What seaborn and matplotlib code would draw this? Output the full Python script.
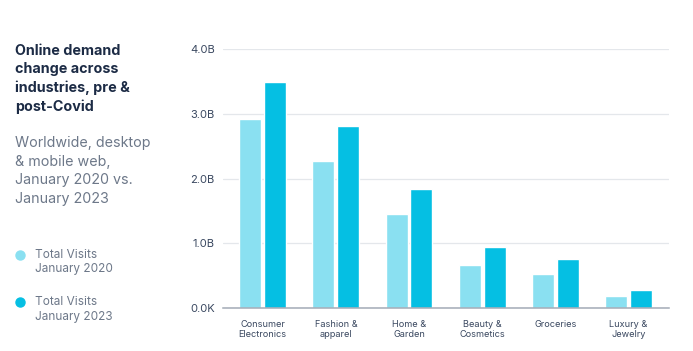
import pandas as pd
import matplotlib.pyplot as plt
import seaborn as sns
from matplotlib.lines import Line2D
from matplotlib.ticker import FuncFormatter

# data (billions of visits)
industries = ["Consumer\nElectronics", "Fashion &\napparel", "Home &\nGarden",
              "Beauty &\nCosmetics", "Groceries", "Luxury &\nJewelry"]
visits_2020 = [2.93, 2.28, 1.46, 0.67, 0.52, 0.19]
visits_2023 = [3.49, 2.82, 1.84, 0.94, 0.75, 0.28]
periods = ["Total Visits\nJanuary 2020", "Total Visits\nJanuary 2023"]
y_ticks = [0, 1, 2, 3, 4]

light = "#8ae0f1"
dark = "#05bfe3"
navy = "#1c2b45"
grey = "#6d7889"

sns.set_theme(style="white")
plt.rcParams["font.family"] = ["Inter", "DejaVu Sans"]

df = pd.DataFrame({
    "industry": industries * 2,
    "visits": visits_2020 + visits_2023,
    "period": [periods[0]] * len(industries) + [periods[1]] * len(industries),
})

W, H = 693, 351
fig = plt.figure(figsize=(W / 100, H / 100), dpi=100)
ax = fig.add_axes([0.322, 0.123, 0.643, 0.736])

sns.barplot(data=df, x="industry", y="visits", hue="period",
            palette=[light, dark], width=0.68, gap=0.12,
            saturation=1, legend=False, ax=ax)

ax.set_xlim(-0.54, 5.55)
ax.set_ylim(0, 4)
ax.set_yticks(y_ticks)
ax.yaxis.set_major_formatter(FuncFormatter(lambda v, p: "0.0K" if v == 0 else f"{v:.1f}B"))
ax.grid(axis="y", color="#e4e7eb", linewidth=0.9)
ax.set_axisbelow(True)
for s in ["top", "right", "left"]:
    ax.spines[s].set_visible(False)
ax.spines["bottom"].set_color("#a3abb6")
ax.spines["bottom"].set_linewidth(1.1)
ax.tick_params(axis="y", length=0, pad=6, labelsize=8, labelcolor="#3a4860")
ax.tick_params(axis="x", length=0, pad=8.5, labelsize=6.6, labelcolor="#3a4860")
ax.set_xlabel("")
ax.set_ylabel("")

# left-hand text block
fig.text(15 / W, 1 - 44 / H, "Online demand\nchange across\nindustries, pre &\npost-Covid",
         fontsize=10.3, fontweight="bold", color=navy, va="top", linespacing=1.38)
fig.text(15 / W, 1 - 136 / H, "Worldwide, desktop\n& mobile web,\nJanuary 2020 vs.\nJanuary 2023",
         fontsize=10.3, color=grey, va="top", linespacing=1.42)

# legend drawn by hand so the two-line labels sit next to the dots
for i, (label, c) in enumerate(zip(periods, [light, dark])):
    y_dot = 254.5 + i * 47.5
    fig.add_artist(Line2D([19.5 / W], [1 - y_dot / H], transform=fig.transFigure,
                          marker="o", markersize=6.5, linestyle="",
                          markerfacecolor=c, markeredgecolor=c))
    fig.text(35 / W, 1 - (y_dot + 7.5) / H, label, fontsize=8.5, color=grey,
             va="center", linespacing=1.3)

fig.savefig("out.png", dpi=100)
